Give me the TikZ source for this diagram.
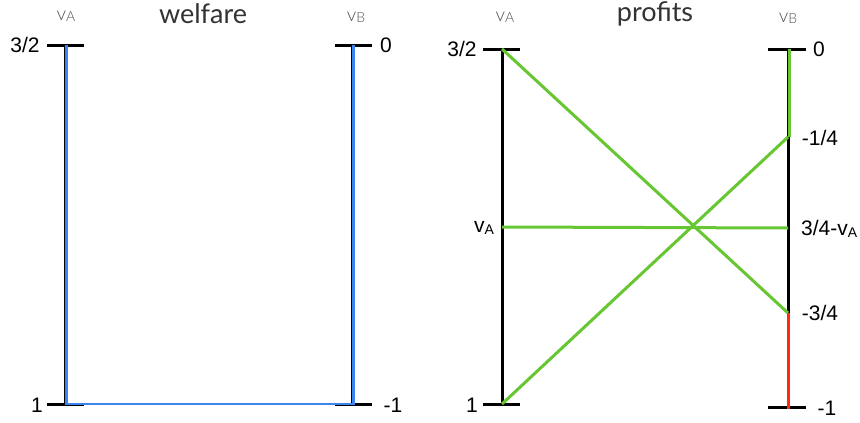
\documentclass[tikz,border=0pt]{standalone}
\usepackage{fontspec}
\setmainfont{Liberation Sans}
\newfontfamily\headfont{Lato}
\newfontfamily\varfont{Lato Light}
\begin{document}
\definecolor{wblue}{HTML}{3C85F0}
\definecolor{pgreen}{HTML}{66C732}
\definecolor{pred}{HTML}{FF2A10}
\definecolor{hgray}{HTML}{333333}
\definecolor{vgray}{HTML}{555555}
\begin{tikzpicture}[x=1pt,y=-1pt,
  axis/.style={line width=3pt,black},
  tick/.style={line width=3pt,black},
  wline/.style={line width=2.8pt,wblue},
  gline/.style={line width=3pt,pgreen},
  rline/.style={line width=3pt,pred},
  num/.style={font=\fontsize{21}{23}\selectfont,inner sep=0pt},
  head/.style={font=\headfont\fontsize{27}{30}\selectfont,text=hgray,inner sep=0pt},
  var/.style={font=\varfont\fontsize{19}{21}\selectfont,text=vgray,inner sep=0pt}]
\useasboundingbox (0,0) rectangle (860,423);
% ---------- welfare panel
\coordinate (LAt) at (65,45);
\coordinate (LAb) at (65,404);
\coordinate (LBt) at (352,45);
\coordinate (LBb) at (352,404);
\draw[axis] (LAt) -- (LAb);
\draw[axis] (LBt) -- (LBb);
\draw[tick] (47,45) -- (84,45);
\draw[tick] (47,404) -- (84,404);
\draw[tick] (335,45) -- (372,45);
\draw[tick] (335,404) -- (372,404);
\draw[wline] ([xshift=1.3pt]LAt) -- ([xshift=1.3pt]LAb) -- ([xshift=1.3pt]LBb) -- ([xshift=1.3pt]LBt);
\node[num] (l32) at (25,45) {3/2};
\node[num] (l1) at (37,405) {1};
\node[num] (l0) at (386,45) {0};
\node[num] (lm1) at (393,405) {-1};
\node[var] (lva) at (66,16) {v\raisebox{-0.15ex}{\fontsize{14}{16}\selectfont A}};
\node[head] (welf) at (203,14) {welfare};
\node[var] (lvb) at (356,17) {v\raisebox{-0.15ex}{\fontsize{14}{16}\selectfont B}};
% ---------- profits panel
\coordinate (RAt) at (502,49);
\coordinate (RAm) at (502,227);
\coordinate (RAb) at (502,404);
\coordinate (RBt) at (788,49);
\coordinate (RB1) at (788,137);
\coordinate (RB2) at (788,228);
\coordinate (RB3) at (788,313);
\coordinate (RBb) at (788,407);
\draw[axis] (RAt) -- (RAb);
\draw[axis] (RBt) -- (RBb);
\draw[tick] (483,49) -- (520,49);
\draw[tick] (483,404) -- (520,404);
\draw[tick] (768,49) -- (806,49);
\draw[tick] (768,407) -- (806,407);
\draw[gline] ([xshift=1pt]RBt) -- ([xshift=1pt]RB1);
\draw[rline] (RB3) -- ([yshift=-1.5pt]RBb);
\draw[gline] (RAt) -- (RB3);
\draw[gline] (RAb) -- (RB1);
\draw[gline] (RAm) -- (RB2);
\node[num] (r32) at (462,49) {3/2};
\node[num] (r1) at (472,405) {1};
\node[num] (rva) at (484,228) {v\raisebox{-0.2ex}{\fontsize{14}{16}\selectfont A}};
\node[num] (r0) at (819,49) {0};
\node[num] (rq1) at (820,138) {-1/4};
\node[num,anchor=west] (rq2) at (801,229) {3/4-v\raisebox{-0.2ex}{\fontsize{14}{16}\selectfont A}};
\node[num] (rq3) at (820,313) {-3/4};
\node[num] (rm1) at (827,408) {-1};
\node[var] (rvak) at (505,17) {v\raisebox{-0.15ex}{\fontsize{14}{16}\selectfont A}};
\node[head] (prof) at (655,14) {profits};
\node[var] (rvb) at (788,18) {v\raisebox{-0.15ex}{\fontsize{14}{16}\selectfont B}};
\end{tikzpicture}
\end{document}
